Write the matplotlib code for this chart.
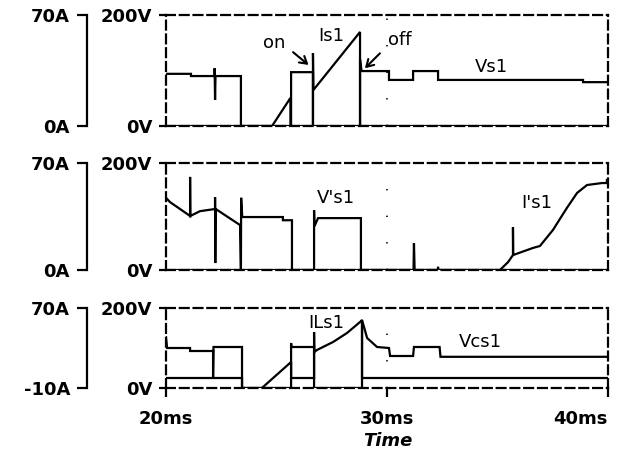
import matplotlib
matplotlib.use("Agg")
import matplotlib.pyplot as plt

W, H = 622, 455

# ---- Panel 1: switch S1 voltage and current ----
vs1_t = [20.0, 21.13, 21.13, 22.20, 22.20, 22.22, 22.24, 23.39, 23.39, 25.66, 25.66, 26.65,
         26.65, 28.78, 28.78, 28.85, 30.09, 30.09, 31.18, 31.18, 32.31, 32.31, 38.87, 38.87, 40.0]
vs1_v = [94, 94, 90, 90, 104, 47, 90, 90, 0, 0, 97, 97,
         0, 0, 120, 99, 99, 83, 83, 99, 99, 83, 83, 79, 79]

is1_t = [20.0, 24.80, 25.63, 25.63, 26.65, 26.65, 26.67, 28.78, 28.78, 40.0]
is1_a = [0, 0, 17.7, 0, 0, 46, 22.7, 59.3, 0, 0]

# ---- Panel 2: auxiliary switch voltage and current ----
vps1_t = [20.0, 20.18, 21.09, 21.09, 21.10, 21.54, 22.22, 22.22, 22.23, 22.25, 23.35, 23.39,
          23.40, 23.45, 25.29, 25.29, 25.70, 25.70, 26.70, 26.70, 26.72, 26.88, 28.82, 28.82,
          31.20, 31.22, 31.25, 32.30, 32.31, 32.32, 40.0]
vps1_v = [135, 127, 101, 174, 101, 110, 114, 136, 13, 114, 84, 0,
          135, 99, 99, 93, 93, 0, 0, 112, 82, 97, 97, 0,
          0, 50, 0, 0, 6, 0, 0]

ips1_t = [20.0, 35.11, 35.48, 35.70, 35.70, 35.71, 36.60, 36.92, 37.51, 38.14, 38.60, 39.05,
          39.73, 39.95, 39.95, 40.0]
ips1_a = [0, 0, 5.2, 9.8, 28, 9.8, 14.4, 15.7, 26.2, 40.6, 50.4, 55.6,
          56.9, 56.9, 58.9, 58.9]

# ---- Panel 3: snubber capacitor voltage and inductor current ----
vcs1_t = [20.0, 20.05, 21.09, 21.09, 22.13, 22.13, 22.15, 23.44, 23.44, 25.66, 25.66, 25.68,
          26.70, 26.70, 28.87, 28.87, 29.10, 29.55, 30.09, 30.14, 31.18, 31.22, 32.38, 32.42, 40.0]
vcs1_v = [127, 100, 100, 92.5, 92.5, 25, 102.5, 102.5, 0, 0, 112.5, 102.5,
          102.5, 0, 0, 170, 125, 102.5, 100, 80, 80, 102.5, 102.5, 78, 78]

ils1_t = [20.0, 23.44, 23.44, 24.34, 25.66, 25.66, 26.70, 26.70, 26.71, 26.83, 27.56, 28.19,
          28.78, 28.87, 28.87, 40.0]
ils1_a = [0, 0, -10, -10, 16, 0, 0, 46, 26, 28, 36, 45,
          56, 58, 0, 0]

time_ticks = [20, 30, 40]
time_labels = ["20ms", "30ms", "40ms"]

LW = 1.6
DASH = (0, (4, 2.2))
TICKFONT = dict(family="DejaVu Sans", weight="bold", size=13)
NOTEFONT = dict(family="DejaVu Sans", size=13)

fig = plt.figure(figsize=(W / 100, H / 100), dpi=100)


def make_panel(top_px, bot_px, i_low, i_low_label, show_time):
    ax = fig.add_axes([166 / W, 1 - bot_px / H, (608 - 166) / W, (bot_px - top_px) / H])
    ax.set_xlim(20, 40)
    ax.set_ylim(0, 200)
    for s in ["top", "left", "right", "bottom"]:
        ax.spines[s].set_linestyle(DASH)
        ax.spines[s].set_linewidth(LW)
    ax.set_yticks([0, 200])
    ax.set_yticklabels(["0V", "200V"], fontdict=TICKFONT)
    ax.tick_params(axis="y", direction="out", length=5, width=LW, pad=5)
    if show_time:
        ax.set_xticks(time_ticks)
        ax.set_xticklabels(time_labels, fontdict=TICKFONT)
        ax.tick_params(axis="x", direction="out", length=6.5, width=LW, pad=9)
        ax.get_xticklabels()[-1].set_horizontalalignment("right")
    else:
        ax.set_xticks([])
    ax.axvline(30, color="k", lw=1.3, linestyle=(0, (0.7, 14)), zorder=1)

    axi = ax.twinx()
    axi.set_ylim(i_low, 70)
    axi.yaxis.tick_left()
    for s in ["top", "right", "bottom"]:
        axi.spines[s].set_visible(False)
    axi.spines["left"].set_visible(True)
    axi.spines["left"].set_position(("outward", 57))
    axi.spines["left"].set_linewidth(LW)
    axi.set_yticks([i_low, 70])
    axi.set_yticklabels([i_low_label, "70A"], fontdict=TICKFONT)
    axi.tick_params(axis="y", direction="out", length=7.2, width=LW, pad=5,
                    left=True, labelleft=True, right=False, labelright=False)
    return ax, axi


trace = dict(color="k", lw=LW, solid_joinstyle="miter", clip_on=True)
arrow = dict(arrowstyle="->,head_length=0.5,head_width=0.3", lw=1.5, color="k",
             shrinkA=0, shrinkB=0)

# Panel 1
ax1, ai1 = make_panel(15, 126, 0, "0A", False)
ax1.plot(vs1_t, vs1_v, **trace)
ai1.plot(is1_t, is1_a, **trace)
ax1.text(24.89, 150, "on", ha="center", va="center", **NOTEFONT)
ax1.annotate("", xy=(26.45, 110), xytext=(25.75, 133), arrowprops=arrow)
ax1.text(27.47, 162, "Is1", ha="center", va="center", **NOTEFONT)
ax1.text(30.59, 155, "off", ha="center", va="center", **NOTEFONT)
ax1.annotate("", xy=(29.0, 104), xytext=(29.68, 131), arrowprops=arrow)
ax1.text(34.71, 106, "Vs1", ha="center", va="center", **NOTEFONT)

# Panel 2
ax2, ai2 = make_panel(163, 270, 0, "0A", False)
ax2.plot(vps1_t, vps1_v, **trace)
ai2.plot(ips1_t, ips1_a, **trace)
ax2.text(27.69, 135, "V's1", ha="center", va="center", **NOTEFONT)
ax2.text(36.79, 125, "I's1", ha="center", va="center", **NOTEFONT)

# Panel 3
ax3, ai3 = make_panel(308, 388, -10, "-10A", True)
ax3.plot(vcs1_t, vcs1_v, **trace)
ai3.plot(ils1_t, ils1_a, **trace)
ax3.text(27.24, 162, "ILs1", ha="center", va="center", **NOTEFONT)
ax3.text(34.21, 115, "Vcs1", ha="center", va="center", **NOTEFONT)

fig.text(388 / W, 1 - 441 / H, "Time", ha="center", va="center",
         family="DejaVu Sans", weight="bold", style="italic", size=13)

fig.savefig("out.png", dpi=100)
